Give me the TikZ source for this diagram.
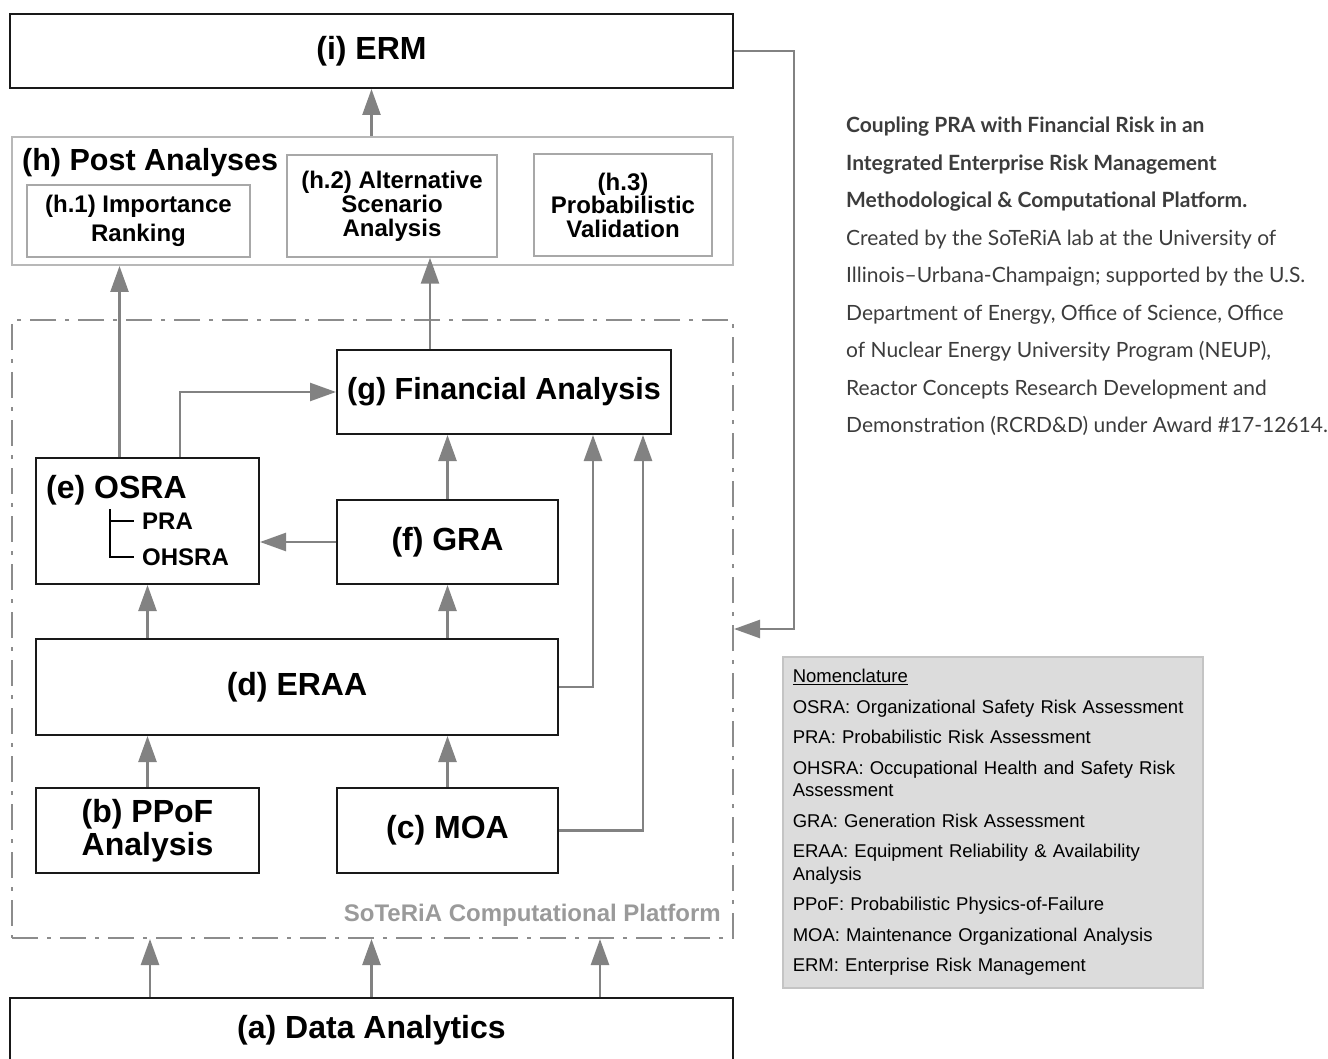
\documentclass[tikz,border=0pt]{standalone}
\usepackage{fontspec}
\setmainfont{Liberation Sans}
\newfontfamily\notefont{Lato}
\usetikzlibrary{arrows.meta}

\definecolor{arrowgray}{HTML}{828282}
\definecolor{hgray}{HTML}{B8B8B8}
\definecolor{subgray}{HTML}{A8A8A8}
\definecolor{platgray}{HTML}{8C8C8C}
\definecolor{labelgray}{HTML}{9A9A9A}
\definecolor{nomfill}{HTML}{DCDCDC}
\definecolor{nomline}{HTML}{C4C4C4}
\definecolor{notedark}{HTML}{3C3C3C}

\begin{document}
\begin{tikzpicture}[x=1pt,y=-1pt,
  blk/.style={draw=black!90, line width=2pt, inner sep=0pt, align=center,
    font=\bfseries\fontsize{32}{33}\selectfont},
  sub/.style={draw=subgray, line width=1.5pt, inner sep=0pt, align=center,
    font=\bfseries\fontsize{24}{24}\selectfont},
  arr/.style={draw=arrowgray, line width=2.5pt, -{Triangle[length=26pt,width=18pt]}},
  tree/.style={draw=black, line width=2pt}]

\useasboundingbox (0,0) rectangle (1328,1059);

\node[blk, minimum width=723pt, minimum height=74pt] (erm) at (371.5,51) {(i) ERM};

% post analyses
\node[draw=hgray, line width=2pt, minimum width=721pt, minimum height=128pt] (h) at (372.5,201) {};
\node[anchor=west, inner sep=2pt, font=\bfseries\fontsize{30.5}{32}\selectfont] (htitle) at (20,163) {(h) Post Analyses};
\node[sub, minimum width=223pt, minimum height=72pt, font=\bfseries\fontsize{24}{29}\selectfont] (h1) at (138.5,221) {(h.1) Importance\\Ranking};
\node[sub, minimum width=210pt, minimum height=102pt] (h2) at (392,206) {(h.2) Alternative\\Scenario\\Analysis};
\node[sub, minimum width=178pt, minimum height=102pt, font=\bfseries\fontsize{24}{23.5}\selectfont] (h3) at (623,205) {(h.3)\\Probabilistic\\Validation};

% platform
\node[draw=platgray, line width=2pt, dash pattern=on 26pt off 9pt on 4pt off 9pt,
  minimum width=721pt, minimum height=618pt] (plat) at (372.5,629) {};
\node[anchor=base east, inner sep=0pt, text=labelgray, font=\bfseries\fontsize{24}{26}\selectfont] (platname) at (721,921) {SoTeRiA Computational Platform};

\node[blk, minimum width=334pt, minimum height=84pt, font=\bfseries\fontsize{30.5}{32}\selectfont] (g) at (504,392) {(g) Financial Analysis};
\node[blk, minimum width=223pt, minimum height=126pt] (e) at (147.5,521) {};
\node[anchor=west, inner sep=2pt, font=\bfseries\fontsize{32}{34}\selectfont] (etitle) at (44,490) {(e) OSRA};
\node[anchor=west, inner xsep=8pt, inner ysep=0pt, font=\bfseries\fontsize{24}{26}\selectfont] (pra) at (134,521) {PRA};
\node[anchor=west, inner xsep=8pt, inner ysep=0pt, font=\bfseries\fontsize{24}{26}\selectfont] (ohsra) at (134,557) {OHSRA};
\coordinate (troot) at (110,509);
\draw[tree] (troot) |- (ohsra.west);
\draw[tree] (troot |- pra.west) -- (pra.west);
\node[blk, minimum width=221pt, minimum height=84pt] (f) at (447.5,542) {(f) GRA};
\node[blk, minimum width=522pt, minimum height=96pt] (d) at (297,687) {(d) ERAA};
\node[blk, minimum width=223pt, minimum height=85pt] (b) at (147.5,830.5) {(b) PPoF\\Analysis};
\node[blk, minimum width=221pt, minimum height=85pt] (c) at (447.5,830.5) {(c) MOA};
\node[blk, minimum width=723pt, minimum height=64pt] (da) at (371.5,1030) {(a) Data Analytics};

% arrows
\draw[arr] (erm.south |- h.north) -- (erm.south);
\coordinate (e1) at ([xshift=-28pt]e.north);
\draw[arr] (e1) -- (e1 |- h.south);
\coordinate (e2) at ([xshift=32.5pt]e.north);
\draw[arr] (e2) |- (g.west);
\coordinate (g1) at ([xshift=-74pt]g.north);
\draw[arr] (g1) -- (g1 |- h2.south);
\draw[arr] (f.north) -- (f.north |- g.south);
\draw[arr] (f.west) -- (f.west -| e.east);
\draw[arr] (e.south |- d.north) -- (e.south);
\draw[arr] (f.south |- d.north) -- (f.south);
\draw[arr] (b.north) -- (b.north |- d.south);
\draw[arr] (c.north) -- (c.north |- d.south);
\coordinate (g2) at ([xshift=89pt]g.south);
\draw[arr] (d.east) -| (g2);
\coordinate (g3) at ([xshift=139pt]g.south);
\draw[arr] (c.east) -| (g3);
\foreach \dx in {-221.5,0,228.5} {
  \coordinate (q) at ([xshift=\dx pt]da.north);
  \draw[arr] (q) -- (q |- plat.south);
}
\draw[arr] (erm.east) -- ++(60,0) |- (plat.east);

% caption and nomenclature
\node[anchor=north west, inner sep=0pt, align=left, text=notedark,
  font=\notefont\fontsize{21}{37.5}\selectfont] (caption) at (846,117)
  {\textbf{Coupling PRA with Financial Risk in an}\\
   \textbf{Integrated Enterprise Risk Management}\\
   \textbf{Methodological \& Computational Platform.}\\
   Created by the SoTeRiA lab at the University of\\
   Illinois–Urbana-Champaign; supported by the U.S.\\
   Department of Energy, Office of Science, Office\\
   of Nuclear Energy University Program (NEUP),\\
   Reactor Concepts Research Development and\\
   Demonstration (RCRD\&D) under Award \#17-12614.};

\node[anchor=north west, fill=nomfill, draw=nomline, line width=1.5pt, text width=400pt,
  minimum height=331pt, inner xsep=10pt, inner ysep=0pt, align=left,
  font=\fontsize{18.5}{22.5}\selectfont] (nom) at (782,656)
  {\underline{Nomenclature}\\[8pt]
   OSRA: Organizational Safety Risk Assessment\\[8pt]
   PRA: Probabilistic Risk Assessment\\[8pt]
   OHSRA: Occupational Health and Safety Risk\\
   Assessment\\[8pt]
   GRA: Generation Risk Assessment\\[8pt]
   ERAA: Equipment Reliability \& Availability\\
   Analysis\\[8pt]
   PPoF: Probabilistic Physics-of-Failure\\[8pt]
   MOA: Maintenance Organizational Analysis\\[8pt]
   ERM: Enterprise Risk Management};

\end{tikzpicture}
\end{document}
